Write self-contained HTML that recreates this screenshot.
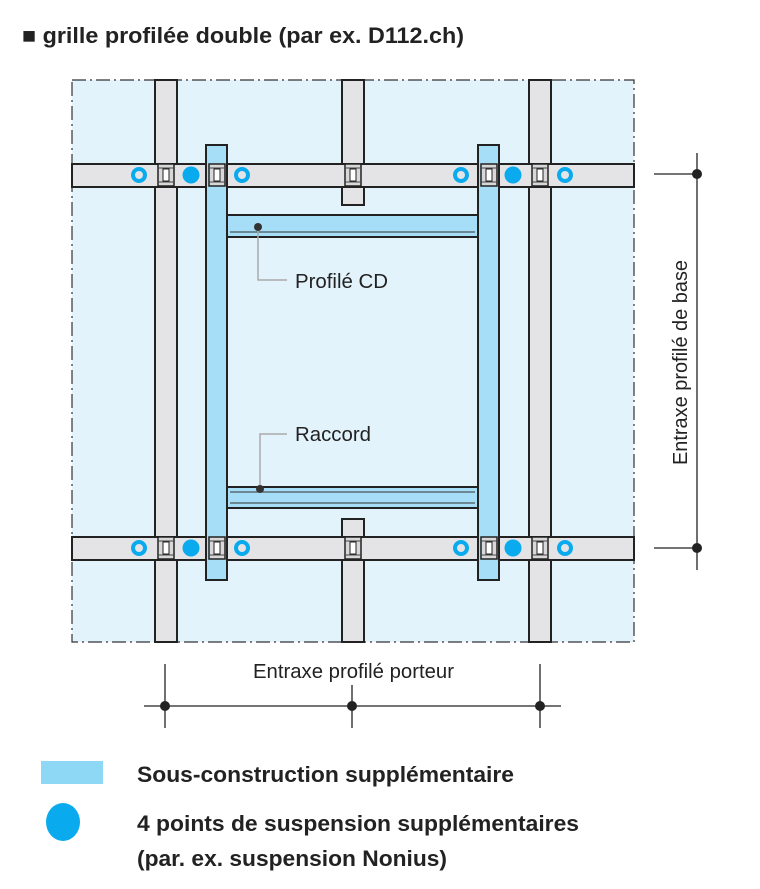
<!DOCTYPE html>
<html><head><meta charset="utf-8"><style>body{margin:0;background:#fff}svg{display:block}</style></head><body>
<svg width="760" height="889" viewBox="0 0 760 889" xmlns="http://www.w3.org/2000/svg" font-family="Liberation Sans, sans-serif">
<defs>
<g id="con"><rect x="-8" y="-11" width="16" height="22" fill="#d8d8d8" stroke="#222" stroke-width="1.5"/><rect x="-3" y="-6" width="6" height="12" fill="#fff" stroke="#222" stroke-width="1"/><line x1="-8" y1="-7" x2="8" y2="-7" stroke="#444"/><line x1="-8" y1="7" x2="8" y2="7" stroke="#444"/></g>
<g id="oc"><circle r="6" fill="none" stroke="#0aaaee" stroke-width="4"/></g>
<g id="fc"><circle r="8.5" fill="#0aaaee"/></g>
</defs>
<text x="22" y="43" font-size="22" font-weight="bold" fill="#222" textLength="442" lengthAdjust="spacingAndGlyphs">■ grille profilée double (par ex. D112.ch)</text>
<rect x="72" y="80" width="562" height="562" fill="#e2f3fc" stroke="#333" stroke-width="1.2" stroke-dasharray="14,4,2,4"/>
<!-- gray verticals -->
<g fill="#e4e4e6" stroke="#222" stroke-width="2">
<rect x="155" y="80" width="22" height="562"/>
<rect x="529" y="80" width="22" height="562"/>
<rect x="342" y="80" width="22" height="125"/>
<rect x="342" y="519" width="22" height="123"/>
<rect x="72" y="164" width="562" height="23"/>
<rect x="72" y="537" width="562" height="23"/>
</g>
<!-- blue -->
<g fill="#a6def7" stroke="#222" stroke-width="2">
<rect x="206" y="145" width="21" height="435"/>
<rect x="478" y="145" width="21" height="435"/>
<rect x="227" y="215" width="251" height="22"/>
<rect x="227" y="487" width="251" height="21"/>
</g>
<g stroke="#333" stroke-width="1" fill="none"><line x1="230" y1="232" x2="475" y2="232"/><line x1="230" y1="503" x2="475" y2="503"/><line x1="230" y1="492" x2="475" y2="492"/></g>
<!-- connectors -->
<use href="#con" x="166" y="175"/><use href="#con" x="217" y="175"/><use href="#con" x="353" y="175"/><use href="#con" x="489" y="175"/><use href="#con" x="540" y="175"/>
<use href="#con" x="166" y="548"/><use href="#con" x="217" y="548"/><use href="#con" x="353" y="548"/><use href="#con" x="489" y="548"/><use href="#con" x="540" y="548"/>
<!-- circles -->
<use href="#oc" x="139" y="175"/><use href="#fc" x="191" y="175"/><use href="#oc" x="242" y="175"/><use href="#oc" x="461" y="175"/><use href="#fc" x="513" y="175"/><use href="#oc" x="565" y="175"/>
<use href="#oc" x="139" y="548"/><use href="#fc" x="191" y="548"/><use href="#oc" x="242" y="548"/><use href="#oc" x="461" y="548"/><use href="#fc" x="513" y="548"/><use href="#oc" x="565" y="548"/>
<!-- leaders -->
<polyline points="258,227 258,280 287,280" fill="none" stroke="#aaa" stroke-width="1.5"/>
<circle cx="258" cy="227" r="4" fill="#333"/>
<text x="295" y="288" font-size="20" fill="#222" textLength="93" lengthAdjust="spacingAndGlyphs">Profilé CD</text>
<polyline points="260,489 260,434 287,434" fill="none" stroke="#aaa" stroke-width="1.5"/>
<circle cx="260" cy="489" r="4" fill="#333"/>
<text x="295" y="441" font-size="20" fill="#222" textLength="76" lengthAdjust="spacingAndGlyphs">Raccord</text>
<!-- right dim -->
<g stroke="#222" stroke-width="1.3"><line x1="697" y1="153" x2="697" y2="570"/><line x1="654" y1="174" x2="697" y2="174"/><line x1="654" y1="548" x2="697" y2="548"/></g>
<circle cx="697" cy="174" r="5" fill="#222"/><circle cx="697" cy="548" r="5" fill="#222"/>
<text transform="translate(687,465) rotate(-90)" font-size="20" fill="#222" textLength="205" lengthAdjust="spacingAndGlyphs">Entraxe profilé de base</text>
<!-- bottom dim -->
<g stroke="#222" stroke-width="1.3"><line x1="144" y1="706" x2="561" y2="706"/><line x1="165" y1="664" x2="165" y2="728"/><line x1="352" y1="685" x2="352" y2="728"/><line x1="540" y1="664" x2="540" y2="728"/></g>
<circle cx="165" cy="706" r="5" fill="#222"/><circle cx="352" cy="706" r="5" fill="#222"/><circle cx="540" cy="706" r="5" fill="#222"/>
<text x="253" y="678" font-size="20" fill="#222" textLength="201" lengthAdjust="spacingAndGlyphs">Entraxe profilé porteur</text>
<!-- legend -->
<rect x="41" y="761" width="62" height="23" fill="#8fd8f5"/>
<ellipse cx="63" cy="822" rx="17" ry="19" fill="#0aaaee"/>
<g font-size="22" font-weight="bold" fill="#222">
<text x="137" y="782" textLength="377" lengthAdjust="spacingAndGlyphs">Sous-construction supplémentaire</text>
<text x="137" y="831" textLength="442" lengthAdjust="spacingAndGlyphs">4 points de suspension supplémentaires</text>
<text x="137" y="866" textLength="310" lengthAdjust="spacingAndGlyphs">(par. ex. suspension Nonius)</text>
</g>
</svg>
</body></html>
